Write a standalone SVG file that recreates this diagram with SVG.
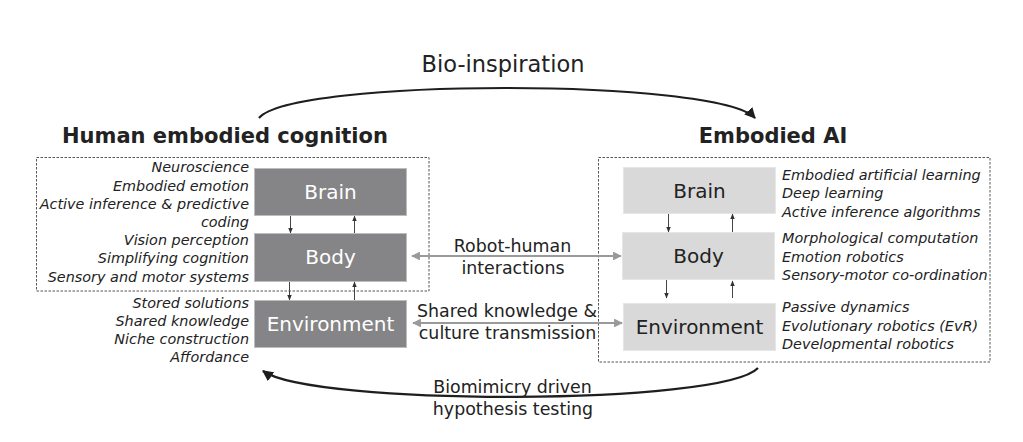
<svg xmlns="http://www.w3.org/2000/svg" width="1023" height="442" viewBox="0 0 1023 442">
<style>
.bg{fill:#ffffff}
.frame{fill:none;stroke:#555;stroke-width:1;stroke-dasharray:2.5,1.5}
.dk{fill:#858587;stroke:#bdbdbd;stroke-width:1}
.lt{fill:#d9d9d9;stroke:#e6e6e6;stroke-width:1}
.lbw{font-family:"DejaVu Sans",sans-serif;font-size:20px;fill:#ffffff;text-anchor:middle}
.lbd{font-family:"DejaVu Sans",sans-serif;font-size:20px;fill:#222;text-anchor:middle}
.it{font-family:"DejaVu Sans",sans-serif;font-style:italic;font-size:14.4px;fill:#222}
.r{text-anchor:end}
.ttl{font-family:"DejaVu Sans",sans-serif;font-weight:bold;font-size:21px;fill:#222;text-anchor:middle}
.mid{font-family:"DejaVu Sans",sans-serif;font-size:17.4px;fill:#222;text-anchor:middle}
.big{font-family:"DejaVu Sans",sans-serif;font-size:22.5px;fill:#222;text-anchor:middle}
.arc{fill:none;stroke:#1e1e1e;stroke-width:2.2}
.thin{fill:none;stroke:#444;stroke-width:1}
.gray{fill:none;stroke:#9a9a9a;stroke-width:2.2}
</style>
<defs>
<marker id="ah" viewBox="0 0 10 10" refX="9" refY="5" markerWidth="5" markerHeight="5" orient="auto" markerUnits="strokeWidth"><path d="M0,0 L10,5 L0,10 z" fill="#1e1e1e"/></marker>
<marker id="sm" viewBox="0 0 10 10" refX="9" refY="5" markerWidth="6" markerHeight="6" orient="auto" markerUnits="strokeWidth"><path d="M0,1 L10,5 L0,9 z" fill="#333"/></marker>
<marker id="ga" viewBox="0 0 10 10" refX="9" refY="5" markerWidth="4" markerHeight="4" orient="auto" markerUnits="strokeWidth"><path d="M0,0 L10,5 L0,10 z" fill="#9a9a9a"/></marker>
<marker id="gs" viewBox="0 0 10 10" refX="1" refY="5" markerWidth="4" markerHeight="4" orient="auto" markerUnits="strokeWidth"><path d="M10,0 L0,5 L10,10 z" fill="#9a9a9a"/></marker>
</defs>
<rect class="bg" x="0" y="0" width="1023" height="442"/>

<g id="titles">
<text class="big" x="503" y="72">Bio-inspiration</text>
<text class="ttl" x="225" y="143">Human embodied cognition</text>
<text class="ttl" x="773" y="143">Embodied AI</text>
</g>

<g id="human-frame"><rect class="frame" x="36.5" y="157.5" width="392.5" height="133.5"/></g>
<g id="ai-frame"><rect class="frame" x="598.5" y="157.5" width="391.5" height="204.5"/></g>

<g id="h-brain"><rect class="dk" x="254.5" y="168.5" width="152" height="47"/><text class="lbw" x="330.5" y="199">Brain</text></g>
<g id="h-body"><rect class="dk" x="254.5" y="233.5" width="152" height="48"/><text class="lbw" x="330.5" y="264">Body</text></g>
<g id="h-env"><rect class="dk" x="254.5" y="300.5" width="152" height="47"/><text class="lbw" x="330.5" y="331">Environment</text></g>

<g id="a-brain"><rect class="lt" x="623.5" y="167.5" width="152" height="46"/><text class="lbd" x="699.5" y="198">Brain</text></g>
<g id="a-body"><rect class="lt" x="622.5" y="232.5" width="152" height="47"/><text class="lbd" x="698.5" y="263">Body</text></g>
<g id="a-env"><rect class="lt" x="623.5" y="303.5" width="152" height="47"/><text class="lbd" x="699.5" y="334">Environment</text></g>

<g id="human-notes">
<text class="it r" x="249" y="172">Neuroscience</text>
<text class="it r" x="249" y="191">Embodied emotion</text>
<text class="it r" x="249" y="209">Active inference &amp; predictive</text>
<text class="it r" x="249" y="227">coding</text>
<text class="it r" x="249" y="245">Vision perception</text>
<text class="it r" x="249" y="263">Simplifying cognition</text>
<text class="it r" x="249" y="282">Sensory and motor systems</text>
<text class="it r" x="249" y="308">Stored solutions</text>
<text class="it r" x="249" y="326">Shared knowledge</text>
<text class="it r" x="249" y="344">Niche construction</text>
<text class="it r" x="249" y="362">Affordance</text>
</g>

<g id="ai-notes">
<text class="it" x="782" y="180">Embodied artificial learning</text>
<text class="it" x="782" y="198">Deep learning</text>
<text class="it" x="782" y="217">Active inference algorithms</text>
<text class="it" x="782" y="243">Morphological computation</text>
<text class="it" x="782" y="262">Emotion robotics</text>
<text class="it" x="782" y="280">Sensory-motor co-ordination</text>
<text class="it" x="782" y="312">Passive dynamics</text>
<text class="it" x="782" y="331">Evolutionary robotics (EvR)</text>
<text class="it" x="782" y="349">Developmental robotics</text>
</g>

<g id="connectors">
<path class="arc" d="M259,118 C292,78 718,78 755,118" marker-end="url(#ah)"/>
<path class="arc" d="M758,368 C722,406 312,406 263,371" marker-end="url(#ah)"/>
<line class="thin" x1="290.5" y1="216" x2="290.5" y2="233" marker-end="url(#sm)"/>
<line class="thin" x1="354.5" y1="233" x2="354.5" y2="216" marker-end="url(#sm)"/>
<line class="thin" x1="289.5" y1="282" x2="289.5" y2="300" marker-end="url(#sm)"/>
<line class="thin" x1="354.5" y1="300" x2="354.5" y2="282" marker-end="url(#sm)"/>
<line class="thin" x1="668.5" y1="214" x2="668.5" y2="232" marker-end="url(#sm)"/>
<line class="thin" x1="732.5" y1="232" x2="732.5" y2="214" marker-end="url(#sm)"/>
<line class="thin" x1="666.5" y1="280" x2="666.5" y2="298" marker-end="url(#sm)"/>
<line class="thin" x1="732.5" y1="298" x2="732.5" y2="281" marker-end="url(#sm)"/>
<line class="gray" x1="412" y1="256" x2="621" y2="256" marker-start="url(#gs)" marker-end="url(#ga)"/>
<line class="gray" x1="413" y1="323" x2="622" y2="323" marker-start="url(#gs)" marker-end="url(#ga)"/>
</g>

<g id="connector-labels">
<text class="mid" x="512.5" y="252">Robot-human</text>
<text class="mid" x="513" y="274">interactions</text>
<text class="mid" x="507" y="317">Shared knowledge &amp;</text>
<text class="mid" x="507.5" y="339">culture transmission</text>
<text class="mid" x="512.5" y="393">Biomimicry driven</text>
<text class="mid" x="513" y="415">hypothesis testing</text>
</g>
</svg>
